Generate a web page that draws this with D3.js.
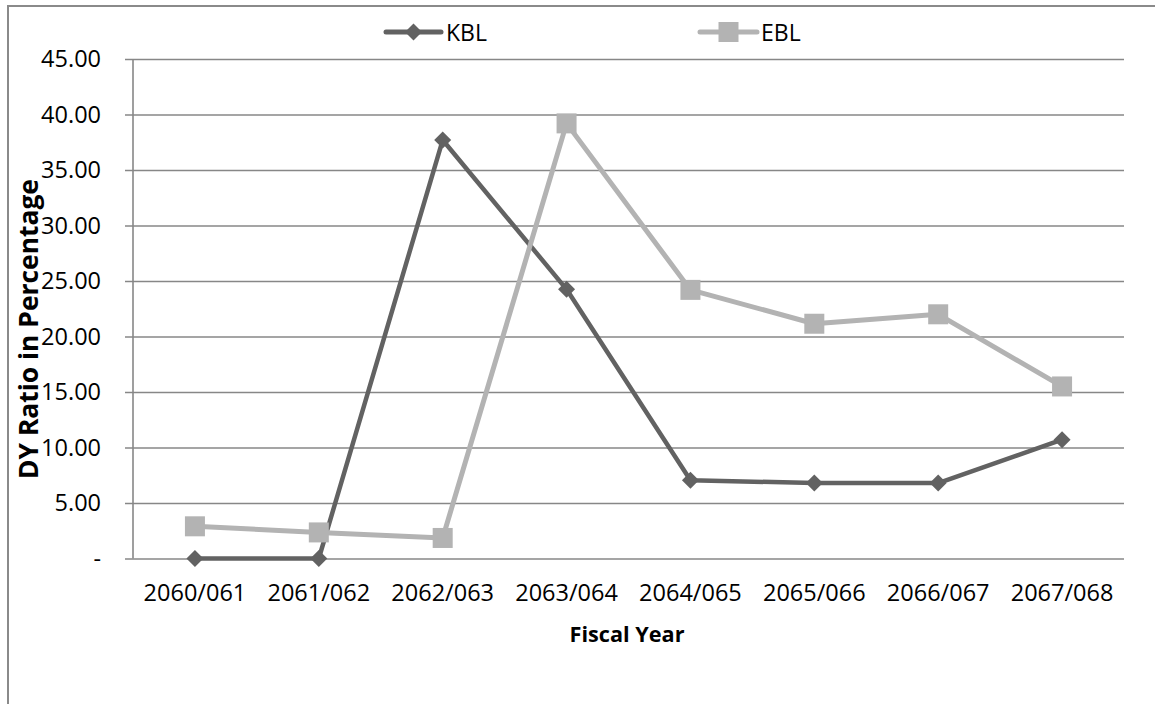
<!DOCTYPE html>
<html>
<head>
<meta charset="utf-8">
<script src="https://cdn.jsdelivr.net/npm/d3@7"></script>
<style>
  html, body { margin: 0; padding: 0; background: #fff; }
  svg { display: block; font-family: "Open Sans", "Noto Sans", sans-serif; }
</style>
</head>
<body>
<svg id="chart" width="1155" height="704"></svg>
<script>
// Fiscal years on the x axis
const years = ["2060/061", "2061/062", "2062/063", "2063/064", "2064/065", "2065/066", "2066/067", "2067/068"];
// Dividend yield ratio (%) per bank
const kbl = [0.00, 0.00, 37.70, 24.25, 7.05, 6.80, 6.80, 10.70];
const ebl = [2.90, 2.35, 1.85, 39.20, 24.20, 21.15, 22.00, 15.50];
const yTicks = [0, 5, 10, 15, 20, 25, 30, 35, 40, 45];

const series = [
  { name: "KBL", values: kbl, color: "#626262", width: 4.5, marker: "diamond" },
  { name: "EBL", values: ebl, color: "#b3b3b3", width: 5, marker: "square" }
];

const svg = d3.select("#chart");
const plot = { left: 133, right: 1124, top: 59, bottom: 558.5 };

// outer chart frame (open towards the right and bottom edges)
svg.append("rect")
  .attr("x", 8).attr("y", 6)
  .attr("width", 1200).attr("height", 760)
  .attr("fill", "none").attr("stroke", "#8a8a8a").attr("stroke-width", 2);

const x = d3.scaleBand().domain(years).range([plot.left, plot.right]);
const y = d3.scaleLinear().domain([0, 45]).range([plot.bottom, plot.top]);

// horizontal gridlines with outward ticks
const yAxis = d3.axisLeft(y)
  .tickValues(yTicks)
  .tickSize(-(plot.right - plot.left))
  .tickPadding(32)
  .tickFormat(d => d === 0 ? "-" : d.toFixed(2));

const gy = svg.append("g").attr("transform", `translate(${plot.left},0)`).call(yAxis);
gy.select(".domain").remove();
gy.selectAll(".tick line")
  .attr("x1", -8)
  .attr("stroke", "#878787").attr("stroke-width", 1.6);
gy.selectAll(".tick text")
  .attr("fill", "#000").attr("font-size", 23.5)
  .attr("font-family", "'Open Sans', sans-serif");

// vertical axis line
svg.append("line")
  .attr("x1", plot.left).attr("x2", plot.left)
  .attr("y1", plot.top).attr("y2", plot.bottom)
  .attr("stroke", "#878787").attr("stroke-width", 1.6);

// category axis
const xAxis = d3.axisBottom(x).tickSize(0).tickPadding(26);
const gx = svg.append("g").attr("transform", `translate(0,${plot.bottom})`).call(xAxis);
gx.select(".domain").remove();
gx.selectAll(".tick text")
  .attr("fill", "#000").attr("font-size", 23.5)
  .attr("font-family", "'Open Sans', sans-serif");

// axis titles, sized to a target run length
function fitText(sel, target) {
  const base = +sel.attr("font-size");
  const len = sel.node().getComputedTextLength();
  if (len > 0) sel.attr("font-size", base * target / len);
}

const xTitle = svg.append("text")
  .attr("x", 627).attr("y", 642)
  .attr("text-anchor", "middle")
  .attr("font-size", 21).attr("font-weight", "bold")
  .text("Fiscal Year");
fitText(xTitle, 115);

const yTitle = svg.append("text")
  .attr("transform", "translate(38,329) rotate(-90)")
  .attr("text-anchor", "middle")
  .attr("font-size", 21).attr("font-weight", "bold")
  .text("DY Ratio in Percentage");
fitText(yTitle, 300);

const cx = d => x(d) + x.bandwidth() / 2;
const line = d3.line().x(d => cx(d.year)).y(d => y(d.value));

function drawMarker(g, type, color) {
  if (type === "diamond") {
    g.append("path").attr("d", "M0,-8.5L8.5,0L0,8.5L-8.5,0Z").attr("fill", color);
  } else {
    g.append("rect").attr("x", -10).attr("y", -10).attr("width", 20).attr("height", 20).attr("fill", color);
  }
}

series.forEach(s => {
  const pts = years.map((yr, i) => ({ year: yr, value: s.values[i] }));
  svg.append("path")
    .datum(pts)
    .attr("d", line)
    .attr("fill", "none")
    .attr("stroke", s.color)
    .attr("stroke-width", s.width)
    .attr("stroke-linejoin", "round");
  pts.forEach(p => {
    const g = svg.append("g").attr("transform", `translate(${cx(p.year)},${y(p.value)})`);
    drawMarker(g, s.marker, s.color);
  });
});

// legend
const legendItems = [
  { s: series[0], x0: 386, x1: 441, tx: 446 },
  { s: series[1], x0: 700, x1: 757, tx: 761 }
];
legendItems.forEach(l => {
  const ly = 32;
  svg.append("line")
    .attr("x1", l.x0).attr("x2", l.x1).attr("y1", ly).attr("y2", ly)
    .attr("stroke", l.s.color).attr("stroke-width", 5).attr("stroke-linecap", "round");
  const g = svg.append("g").attr("transform", `translate(${(l.x0 + l.x1) / 2},${ly})`);
  drawMarker(g, l.s.marker, l.s.color);
  svg.append("text")
    .attr("x", l.tx).attr("y", ly + 8.5)
    .attr("font-size", 23)
    .attr("fill", "#000")
    .text(l.s.name);
});
</script>
</body>
</html>
